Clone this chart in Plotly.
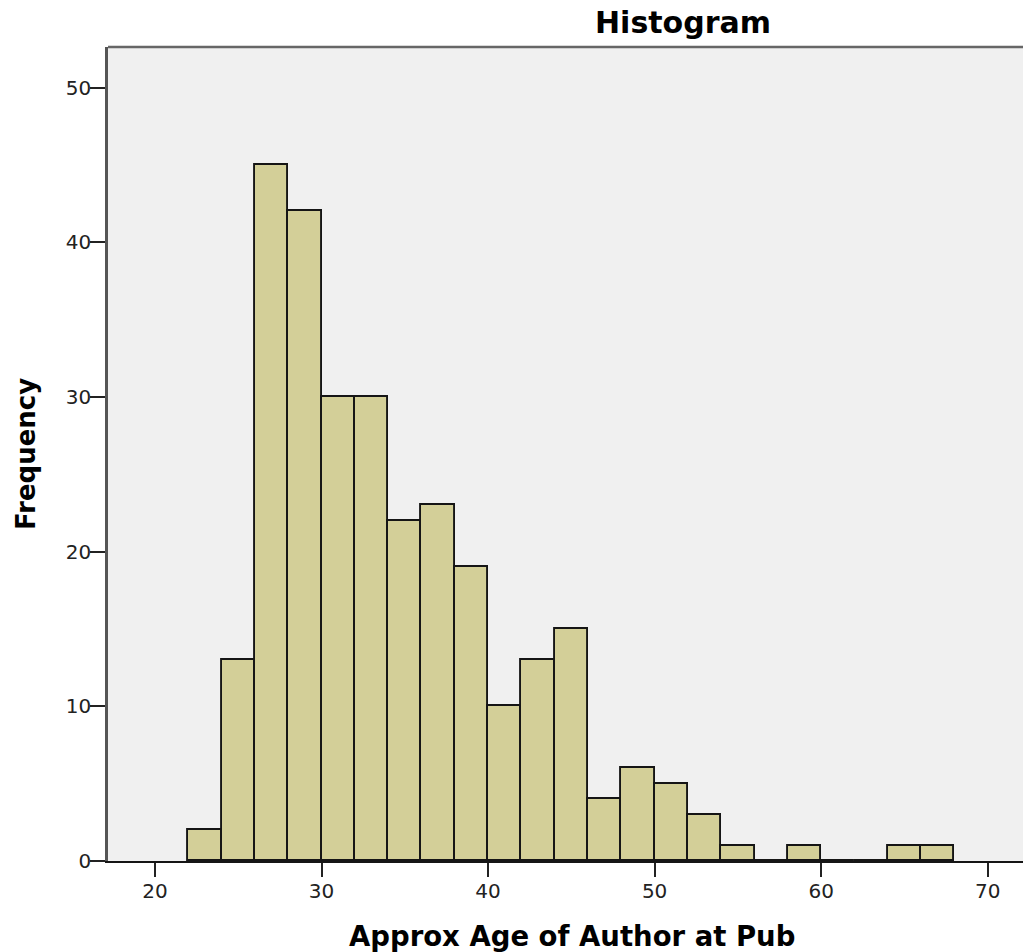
import plotly.graph_objects as go

# Data: bin left edges (width 2) and counts
bin_left = [22, 24, 26, 28, 30, 32, 34, 36, 38, 40, 42, 44, 46, 48, 50, 52, 54, 56, 58, 60, 62, 64, 66]
counts   = [2, 13, 45, 42, 30, 30, 22, 23, 19, 10, 13, 15, 4, 6, 5, 3, 1, 0, 1, 0, 0, 1, 1]
bin_width = 2
x_ticks = [20, 30, 40, 50, 60, 70]
y_ticks = [0, 10, 20, 30, 40, 50]

centers = [b + bin_width / 2 for b in bin_left]

W, H = 1023, 952
L, R, T = 108, 0, 47
B = H - 861
pw, ph = W - L - R, H - T - B

def px_x(p):
    return (p - L) / pw

def px_y(p):
    return (H - B - p) / ph

fig = go.Figure()
fig.add_trace(go.Bar(
    x=centers, y=counts, width=bin_width,
    marker=dict(color="#d3cf98", line=dict(color="#151515", width=1.9)),
    hoverinfo="x+y", showlegend=False,
))

tickfont = dict(family="DejaVu Sans", size=20, color="#222222")

fig.update_layout(
    width=W, height=H,
    margin=dict(l=L, r=R, t=T, b=B, pad=0),
    paper_bgcolor="white",
    plot_bgcolor="#f0f0f0",
    bargap=0,
    xaxis=dict(
        range=[17.18, 72.12], tickmode="array", tickvals=x_ticks,
        showgrid=False, zeroline=False,
        showline=True, linecolor="#151515", linewidth=1.9,
        ticks="outside", ticklen=14, tickwidth=2, tickcolor="#222222",
        tickfont=tickfont, ticklabelstandoff=-3,
    ),
    yaxis=dict(
        range=[0, 52.63], tickmode="array", tickvals=y_ticks,
        showgrid=False, zeroline=False,
        showline=True, linecolor="#555555", linewidth=2.5,
        ticks="outside", ticklen=15, tickwidth=2, tickcolor="#222222",
        tickfont=tickfont, ticklabelstandoff=-5,
    ),
    shapes=[dict(type="line", xref="paper", yref="paper", x0=0, x1=1, y0=1, y1=1,
                 line=dict(color="#666666", width=2.5))],
    annotations=[
        dict(text="<b>Histogram</b>", xref="paper", yref="paper",
             x=px_x(683), y=px_y(22), xanchor="center", yanchor="middle",
             showarrow=False, font=dict(family="DejaVu Sans", size=30, color="black")),
        dict(text="<b>Approx Age of Author at Pub</b>", xref="paper", yref="paper",
             x=px_x(571.5), y=px_y(936), xanchor="center", yanchor="middle",
             showarrow=False, font=dict(family="DejaVu Sans", size=27.5, color="black")),
        dict(text="<b>Frequency</b>", xref="paper", yref="paper",
             x=px_x(26), y=0.5, xanchor="center", yanchor="middle", textangle=-90,
             showarrow=False, font=dict(family="DejaVu Sans", size=26, color="black")),
    ],
)

fig.write_html(
    "out.html",
    config={"displayModeBar": False},
    post_script="document.body.style.margin='0';document.documentElement.style.overflow='hidden';document.body.style.overflow='hidden';",
)
